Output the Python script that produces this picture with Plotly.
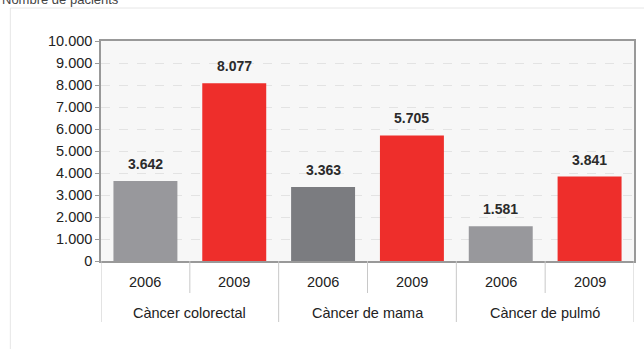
import plotly.graph_objects as go

# Patients per cancer type and year
groups = ["Càncer colorectal", "Càncer de mama", "Càncer de pulmó"]
years = ["2006", "2009"]
patients = [3642, 8077, 3363, 5705, 1581, 3841]
bar_colors = ["#98989c", "#ee2e2b", "#7b7c80", "#ee2e2b", "#98989c", "#ee2e2b"]
y_title = "Nombre de pacients"

W, H = 644, 349
ml, mr, mt, mb = 101, 8, 41, 88
pw, ph = W - ml - mr, H - mt - mb

def px_x(px):
    return (px - ml) / pw

def px_y(py):
    return (H - mb - py) / ph

xs = list(range(len(patients)))
fig = go.Figure(go.Bar(
    x=xs, y=patients, width=0.72,
    marker=dict(color=bar_colors, line=dict(width=0)),
    hoverinfo="skip",
))

FONT = "Liberation Sans, Arial, Helvetica, sans-serif"
ann = []
# value labels above bars
for x, v in zip(xs, patients):
    ann.append(dict(x=x, y=v, xref="x", yref="y", text=f"{v:,}".replace(",", "."),
                    showarrow=False, yanchor="middle", yshift=17,
                    font=dict(family=FONT, size=14, color="#2b2b2b", weight="bold")))
# year labels and group labels under the axis
for i, x in enumerate(xs):
    ann.append(dict(x=x, y=px_y(282), xref="x", yref="paper", text=years[i % 2],
                    showarrow=False, yanchor="middle",
                    font=dict(family=FONT, size=14.5, color="#222")))
for g, name in enumerate(groups):
    ann.append(dict(x=2 * g + 0.5, y=px_y(313), xref="x", yref="paper", text=name,
                    showarrow=False, yanchor="middle",
                    font=dict(family=FONT, size=14.5, color="#222")))
# axis title at the top left
ann.append(dict(x=px_x(0), y=px_y(-1), xref="paper", yref="paper", text=y_title,
                showarrow=False, xanchor="left", yanchor="middle",
                font=dict(family=FONT, size=13, color="#444")))

shapes = []
# outer panel frame
shapes.append(dict(type="rect", xref="paper", yref="paper",
                   x0=px_x(10), x1=px_x(700), y0=px_y(400), y1=px_y(8),
                   line=dict(color="#e6e6e6", width=1), fillcolor="rgba(0,0,0,0)",
                   layer="below"))
# category dividers below the axis
for k in range(len(xs) + 1):
    xb = k - 0.5
    long = (k % 2 == 0)
    shapes.append(dict(type="line", xref="x", yref="paper",
                       x0=xb, x1=xb, y0=0, y1=px_y(322 if long else 293),
                       line=dict(color="#c8c8c8", width=1)))

fig.update_layout(
    width=W, height=H,
    margin=dict(l=ml, r=mr, t=mt, b=mb),
    paper_bgcolor="white", plot_bgcolor="#f7f7f7",
    separators=",.",
    showlegend=False,
    annotations=ann, shapes=shapes,
    font=dict(family=FONT),
)
fig.update_xaxes(range=[-0.5, 5.5], showticklabels=False, showgrid=False,
                 zeroline=False, showline=True, mirror=True,
                 linecolor="#999", linewidth=1.5, ticks="", fixedrange=True)
fig.update_yaxes(range=[0, 10000], dtick=1000, tickformat=",d",
                 showgrid=True, gridcolor="#e3e3e3", griddash="dash", gridwidth=1,
                 zeroline=False, showline=True, mirror=True,
                 linecolor="#999", linewidth=1.5,
                 ticks="outside", ticklen=4, tickcolor="#999",
                 tickfont=dict(family=FONT, size=14.5, color="#222"))

fig.write_html("out.html")
